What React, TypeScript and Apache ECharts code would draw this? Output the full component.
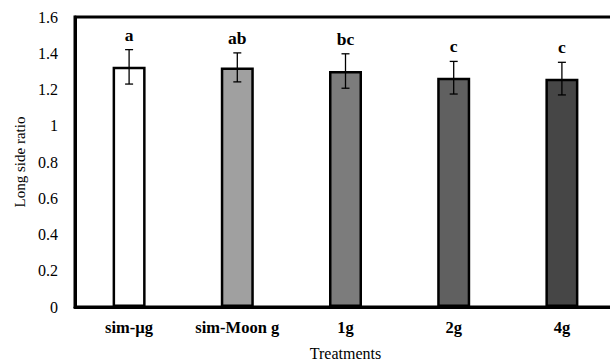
import React, { useEffect, useRef } from "react";
import * as echarts from "echarts";

const categories = ["sim-µg", "sim-Moon g", "1g", "2g", "4g"];
const means = [1.325, 1.322, 1.302, 1.265, 1.26];
const errors = [0.095, 0.08, 0.095, 0.09, 0.09];
const letters = ["a", "ab", "bc", "c", "c"];
const barColors = ["#ffffff", "#a0a0a0", "#7c7c7c", "#606060", "#464646"];
const yTicks = { min: 0, max: 1.6, interval: 0.2 };

export default function App() {
  const ref = useRef<HTMLDivElement>(null);
  useEffect(() => {
    if (!ref.current) return;
    const chart = echarts.init(ref.current, undefined, { renderer: "svg" });
    const font = "Liberation Serif";
    chart.setOption({
      animation: false,
      grid: {
        left: 75,
        top: 17,
        width: 541,
        height: 290,
        outerBoundsMode: "none",
        containLabel: false,
        show: true,
        borderColor: "#000",
        borderWidth: 3,
        backgroundColor: "transparent",
      },
      xAxis: {
        type: "category",
        data: categories,
        name: "Treatments",
        nameLocation: "middle",
        nameGap: 38,
        nameTextStyle: { fontFamily: font, fontSize: 16, color: "#000" },
        axisLine: { show: true, lineStyle: { color: "#000", width: 3 } },
        axisTick: { show: false },
        axisLabel: {
          interval: 0,
          hideOverlap: false,
          fontFamily: font,
          fontSize: 16.5,
          fontWeight: "bold",
          color: "#000",
          margin: 12,
        },
      },
      yAxis: {
        type: "value",
        min: yTicks.min,
        max: yTicks.max,
        interval: yTicks.interval,
        name: "Long side ratio",
        nameLocation: "middle",
        nameRotate: 90,
        nameGap: 47,
        nameTextStyle: { fontFamily: font, fontSize: 15, color: "#000" },
        axisLine: { show: true, lineStyle: { color: "#000", width: 3 } },
        axisTick: { show: false },
        splitLine: { show: false },
        axisLabel: {
          fontFamily: font,
          fontSize: 16,
          color: "#000",
          margin: 17,
          formatter: (v: number) => String(Math.round(v * 10) / 10),
        },
      },
      series: [
        {
          type: "bar",
          barWidth: 33,
          data: means.map((v, i) => ({
            value: v,
            itemStyle: {
              color: barColors[i],
              borderColor: "#000",
              borderWidth: 2.5,
            },
          })),
          z: 2,
        },
        {
          type: "custom",
          z: 5,
          data: means.map((m, i) => [i, m, errors[i]]),
          renderItem: (params: any, api: any) => {
            const idx = api.value(0);
            const m = api.value(1);
            const e = api.value(2);
            const top = api.coord([idx, m + e]);
            const bot = api.coord([idx, m - e]);
            const x = top[0];
            const cap = 4;
            const style = { stroke: "#000", lineWidth: 1.3 };
            return {
              type: "group",
              children: [
                { type: "line", shape: { x1: x, y1: top[1], x2: x, y2: bot[1] }, style },
                { type: "line", shape: { x1: x - cap, y1: top[1], x2: x + cap, y2: top[1] }, style },
                { type: "line", shape: { x1: x - cap, y1: bot[1], x2: x + cap, y2: bot[1] }, style },
                {
                  type: "text",
                  x: x,
                  y: top[1] - 6,
                  style: {
                    text: letters[params.dataIndex],
                    fontFamily: font,
                    fontSize: 17.5,
                    fontWeight: "bold",
                    fill: "#000",
                    align: "center",
                    verticalAlign: "bottom",
                  },
                },
              ],
            };
          },
        },
      ],
    });
    return () => chart.dispose();
  }, []);
  return <div ref={ref} style={{ width: 610, height: 360, position: "absolute", left: 0, top: 0 }} />;
}
